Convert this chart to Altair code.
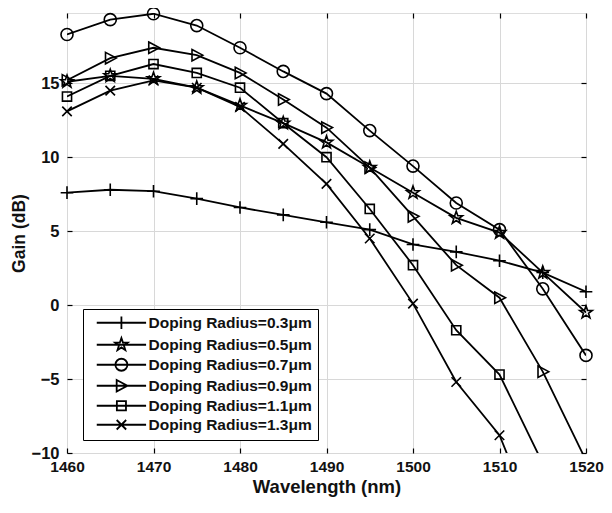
import altair as alt
import pandas as pd
import math

# ---------------- data ----------------
wavelength = [1460, 1465, 1470, 1475, 1480, 1485, 1490, 1495, 1500, 1505, 1510, 1515, 1520]
labels = [
    "Doping Radius=0.3μm",
    "Doping Radius=0.5μm",
    "Doping Radius=0.7μm",
    "Doping Radius=0.9μm",
    "Doping Radius=1.1μm",
    "Doping Radius=1.3μm",
]
gain_r03 = [7.6, 7.8, 7.7, 7.2, 6.6, 6.1, 5.6, 5.1, 4.1, 3.6, 3.0, 2.2, 0.9]
gain_r05 = [15.1, 15.5, 15.3, 14.7, 13.5, 12.3, 11.0, 9.3, 7.6, 5.9, 4.9, 2.2, -0.5]
gain_r07 = [18.3, 19.3, 19.7, 18.9, 17.4, 15.8, 14.3, 11.8, 9.4, 6.9, 5.1, 1.1, -3.4]
gain_r09 = [15.2, 16.7, 17.4, 16.9, 15.7, 13.9, 12.0, 9.3, 6.0, 2.7, 0.5, -4.5, -10.5]
gain_r11 = [14.1, 15.5, 16.3, 15.7, 14.7, 12.3, 10.0, 6.5, 2.7, -1.7, -4.7, -10.7]
gain_r13 = [13.1, 14.5, 15.2, 14.7, 13.4, 10.9, 8.2, 4.5, 0.1, -5.2, -8.8, -16.0]
x_ticks = [1460, 1470, 1480, 1490, 1500, 1510, 1520]
y_ticks = [-10, -5, 0, 5, 10, 15]

series = [gain_r03, gain_r05, gain_r07, gain_r09, gain_r11, gain_r13]
rows = []
for lab, vals in zip(labels, series):
    for i, v in enumerate(vals):
        rows.append({"wl": wavelength[i], "gain": v, "series": lab, "order": i})
df = pd.DataFrame(rows)

# ---------------- marker paths ----------------
def poly(pts, dx=0.0):
    return "M" + "L".join(f"{x + dx:.3f},{y:.3f}" for x, y in pts) + "Z"

def segs(lines, dx=0.0):
    return "".join(f"M{a + dx:.3f},{b:.3f}L{c + dx:.3f},{d:.3f}" for a, b, c, d in lines)

def circ(dx=0.0, r=0.95):
    return (f"M{dx + r:.3f},0A{r},{r} 0 1,1 {dx - r:.3f},0"
            f"A{r},{r} 0 1,1 {dx + r:.3f},0Z")

star_pts = []
for k in range(10):
    ang = -math.pi / 2 + k * math.pi / 5
    rr = 1.05 if k % 2 == 0 else 0.42
    star_pts.append((rr * math.cos(ang), rr * math.sin(ang)))

def marker(idx, dx=0.0):
    if idx == 0:
        return segs([(-1, 0, 1, 0), (0, -1, 0, 1)], dx)
    if idx == 1:
        return poly(star_pts, dx)
    if idx == 2:
        return circ(dx)
    if idx == 3:
        return poly([(-0.75, -0.9), (0.95, 0), (-0.75, 0.9)], dx)
    if idx == 4:
        return poly([(-0.72, -0.72), (0.72, -0.72), (0.72, 0.72), (-0.72, 0.72)], dx)
    return segs([(-0.75, -0.75, 0.75, 0.75), (-0.75, 0.75, 0.75, -0.75)], dx)

marker_paths = [marker(i) for i in range(6)]
C = 3.9
legend_paths = [segs([(0, 0, 2 * C, 0)]) + marker(i, C) for i in range(6)]

W, H = 519, 440
FONT = "Liberation Sans"
TXT = "#111111"

xs = alt.Scale(domain=[1460, 1520], nice=False, zero=False)
ys = alt.Scale(domain=[-10, 19.75], nice=False, zero=False)

def tick_axis(orient, off, values):
    return alt.Axis(orient=orient, offset=off, values=values, labels=False, domain=False,
                    grid=False, ticks=True, tickSize=5, tickColor="black", tickWidth=1.2,
                    title=None)

lines = alt.Chart(df).mark_line(color="black", strokeWidth=1.8, clip=True).encode(
    x=alt.X("wl:Q", scale=xs,
            axis=alt.Axis(orient="bottom", values=x_ticks, title="Wavelength (nm)",
                          format="d", ticks=False, domain=False, grid=True,
                          gridColor="#d8d8d8", gridWidth=1, labelPadding=6,
                          labelFlush=False, labelOverlap=False,
                          labelFontSize=15.5, labelFont=FONT, labelFontWeight="bold",
                          labelColor=TXT, titleFontSize=18.5, titleFont=FONT,
                          titleFontWeight="bold", titleColor=TXT, titlePadding=3)),
    y=alt.Y("gain:Q", scale=ys,
            axis=alt.Axis(orient="left", values=y_ticks, title="Gain (dB)",
                          ticks=False, domain=False, grid=True, labelFlush=False,
                          gridColor="#d8d8d8", gridWidth=1, labelPadding=8,
                          labelOverlap=False,
                          labelFontSize=16.5, labelFont=FONT, labelFontWeight="bold",
                          labelColor=TXT, titleFontSize=17.5, titleFont=FONT,
                          titleFontWeight="bold", titleColor=TXT, titlePadding=3)),
    detail="series:N",
    order="order:Q",
)

points = alt.Chart(df).transform_filter("datum.gain >= -10").mark_point(
    filled=False, color="black", strokeWidth=1.6, size=160, opacity=1
).encode(
    x=alt.X("wl:Q", scale=xs, axis=tick_axis("top", -H, x_ticks)),
    y=alt.Y("gain:Q", scale=ys, axis=tick_axis("right", -W, y_ticks)),
    shape=alt.Shape("series:N", scale=alt.Scale(domain=labels, range=marker_paths), legend=None),
)

legend_layer = alt.Chart(df).mark_point(
    filled=False, color="black", strokeWidth=1.6, size=160, opacity=0
).encode(
    x=alt.X("wl:Q", scale=xs, axis=tick_axis("bottom", -H, x_ticks)),
    y=alt.Y("gain:Q", scale=ys, axis=tick_axis("left", -W, y_ticks)),
    shape=alt.Shape("leg:N", scale=alt.Scale(domain=labels, range=legend_paths),
                    legend=alt.Legend(title=None, orient="none", legendX=16, legendY=296,
                                      symbolSize=160, symbolStrokeWidth=1.8,
                                      symbolStrokeColor="black", symbolFillColor="transparent",
                                      symbolOpacity=1, labelOffset=44,
                                      labelFont=FONT, labelFontSize=15.5, labelFontWeight="bold",
                                      labelColor=TXT, rowPadding=1, padding=6,
                                      strokeColor="black", fillColor="white",
                                      labelLimit=300)),
).transform_calculate(leg="datum.series")

chart = alt.layer(lines, points, legend_layer).resolve_axis(
    x="independent", y="independent"
).resolve_scale(shape="independent").properties(
    width=W, height=H,
    autosize=alt.AutoSizeParams(type="none"),
    padding={"left": 59, "top": 5, "right": 18, "bottom": 52},
).configure_view(stroke="black", strokeWidth=2).configure(background="white")

chart.save("out.html", embed_options={"renderer": "svg", "actions": False})
